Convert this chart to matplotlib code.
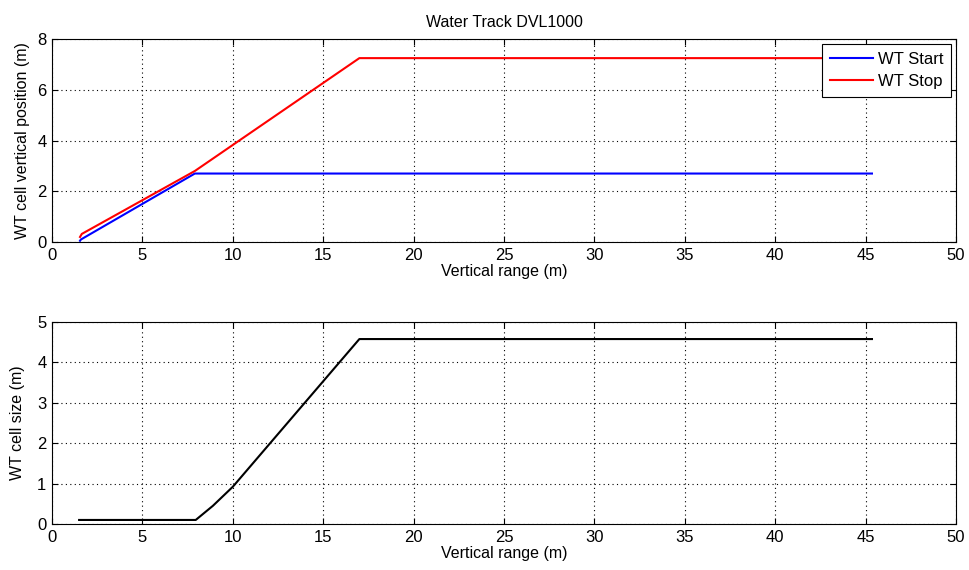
import matplotlib
matplotlib.use("Agg")
import matplotlib.pyplot as plt

# WT start / stop positions
start_range = [1.55, 1.6, 7.9, 45.35]
start_pos = [0.05, 0.1, 2.7, 2.7]

stop_range = [1.55, 1.65, 7.9, 17.0, 45.35]
stop_pos = [0.2, 0.32, 2.8, 7.25, 7.25]

# cell size, lower panel
size_range = [1.5, 7.95, 8.9, 10.0, 17.0, 45.35]
cell_size = [0.1, 0.1, 0.45, 0.92, 4.57, 4.57]

plt.rcParams['font.family'] = ['Liberation Sans', 'DejaVu Sans']
plt.rcParams['font.size'] = 11

fig = plt.figure(figsize=(9.7, 5.7), dpi=100)
ax1 = fig.add_axes([0.0536, 0.5754, 0.932, 0.356])
ax2 = fig.add_axes([0.0536, 0.0807, 0.932, 0.355])


def style(ax):
    ax.set_xlim(0, 50)
    ax.set_xticks(range(0, 51, 5))
    ax.grid(True, color='black', linestyle=(0, (1, 3)), linewidth=0.8)
    ax.tick_params(direction='in', top=True, right=True, length=4,
                   labelsize=12, pad=4)
    for s in ax.spines.values():
        s.set_linewidth(0.8)
    ax.set_xlabel('Vertical range (m)', fontsize=11.5, labelpad=1)


ax1.plot(start_range, start_pos, color='blue', lw=1.5, label='WT Start')
ax1.plot(stop_range, stop_pos, color='red', lw=1.5, label='WT Stop')
style(ax1)
ax1.set_ylim(0, 8)
ax1.set_yticks(range(0, 9, 2))
ax1.set_ylabel('WT cell vertical position (m)', fontsize=11.5, labelpad=5)
ax1.set_title('Water Track DVL1000', fontsize=11.5, pad=9)
leg = ax1.legend(loc='upper right', fancybox=False, framealpha=1,
                 edgecolor='black', fontsize=12, handlelength=2.6,
                 borderaxespad=0.3, handletextpad=0.3, borderpad=0.45,
                 labelspacing=0.45)
leg.get_frame().set_linewidth(0.8)

ax2.plot(size_range, cell_size, color='black', lw=1.5)
style(ax2)
ax2.set_ylim(0, 5)
ax2.set_yticks(range(0, 6))
ax2.set_ylabel('WT cell size (m)', fontsize=11.5, labelpad=9)

fig.savefig('out.png', dpi=100)
